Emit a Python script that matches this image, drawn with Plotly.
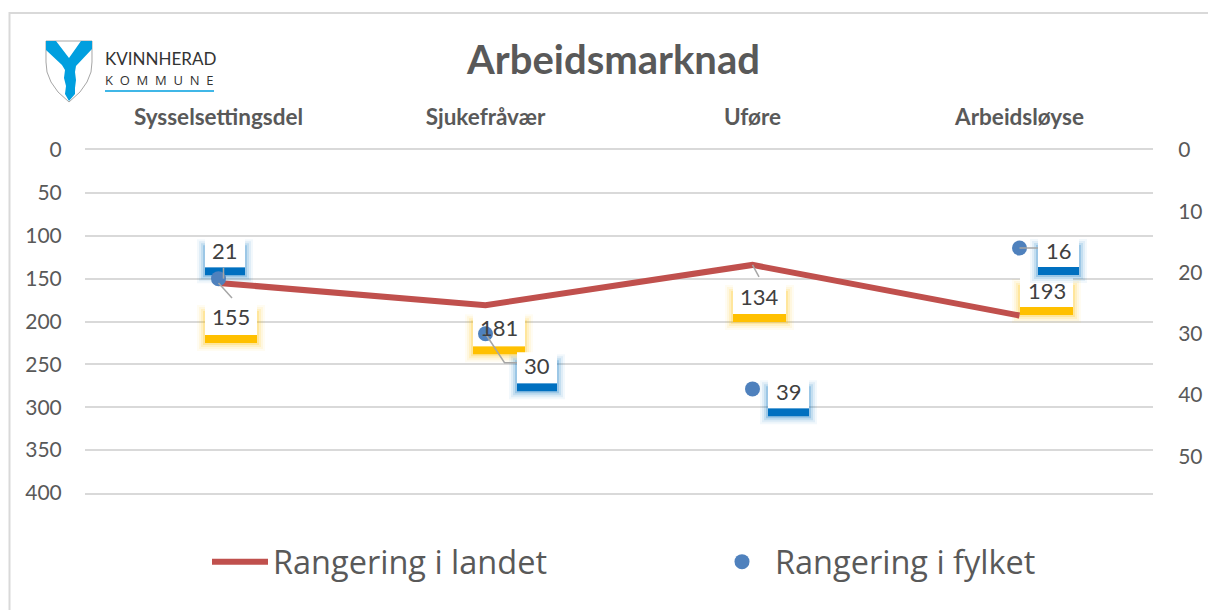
import plotly.graph_objects as go

categories = ["Sysselsettingsdel", "Sjukefråvær", "Uføre", "Arbeidsløyse"]
rang_landet = [155, 181, 134, 193]
rang_fylket = [21, 30, 39, 16]
y_ticks_left = [0, 50, 100, 150, 200, 250, 300, 350, 400]
y_ticks_right = [0, 10, 20, 30, 40, 50]
title_text = "Arbeidsmarknad"

W, H = 1208, 610
ML, MR, MT, MB = 85, 55, 150, 117
PW, PH = W - ML - MR, H - MT - MB
Y_MAX = 400
Y2_MAX = 56
FONT = "Lato"
TXT = "#595959"
DARK = "#404040"
GRID = "#d9d9d9"
RED = "#c0504d"
BLUE = "#4f81bd"
AMBER = "#ffc000"
DBLUE = "#0070c0"
LOGO = "#009fdf"

# label-box placement relative to its point, in pixels: dx0, dx1, dy top, dy bottom (down is positive)
box_landet = [(-13.5, 38.5, 20, 52), (-12.5, 39.5, 7, 41), (-19.5, 33.5, 18, 49), (0.5, 53.5, -38.5, -8.5)]
box_fylket = [(-13.5, 26.5, -41.5, -11.5), (31.5, 71.5, 18.5, 49.5), (15.5, 56.5, -10.7, 19.3), (18.5, 59.5, -11, 19)]
# leader lines relative to the point, in pixels
lead_landet = [[(0, 0), (13.5, 15)], None, [(0, 0), (6.5, 12)], None]
lead_fylket = [[(5, -11), (5, 0)], [(0, 0), (19, 29), (31.5, 29)], None, [(0, 0), (18.5, 0)]]


def px(x, y):
    # canvas pixels to plotly paper fractions (paper spans the plot area)
    return (x - ML) / PW, 1 - (y - MT) / PH


def paper_path(pts, close=True):
    s = ""
    for i, (x, y) in enumerate(pts):
        a, b = px(x, y)
        s += ("M" if i == 0 else "L") + f"{a:.5f},{b:.5f} "
    return s + ("Z" if close else "")


shapes = []
annots = []


def add_label(cat, val, box, anchor, color):
    # anchor is the point's position expressed on the left axis, so all boxes share one shape layer
    x0, x1, top, bot = box
    band = 8
    for grow, op in [(8, 0.05), (6, 0.08), (4, 0.12), (2, 0.2)]:
        shapes.append(dict(type="rect", xref="x", yref="y", xsizemode="pixel", ysizemode="pixel",
                           xanchor=cat, yanchor=anchor, x0=x0 - grow, x1=x1 + grow,
                           y0=-(top + 10 - grow), y1=-(bot + band + grow), fillcolor=color, opacity=op,
                           line_width=0, layer="between"))
    shapes.append(dict(type="rect", xref="x", yref="y", xsizemode="pixel", ysizemode="pixel",
                       xanchor=cat, yanchor=anchor, x0=x0, x1=x1, y0=-bot, y1=-(bot + band),
                       fillcolor=color, line_width=0, layer="between"))
    shapes.append(dict(type="rect", xref="x", yref="y", xsizemode="pixel", ysizemode="pixel",
                       xanchor=cat, yanchor=anchor, x0=x0, x1=x1, y0=-top, y1=-bot,
                       fillcolor="white", line_width=0, layer="between"))
    annots.append(dict(x=cat, y=anchor, xref="x", yref="y", text=str(val), showarrow=False,
                       xshift=(x0 + x1) / 2, yshift=-(top + bot) / 2 + 2,
                       font=dict(family=FONT, size=22, color=DARK)))


def add_leader(cat, anchor, pts):
    if not pts:
        return
    p = " ".join(("M" if i == 0 else "L") + f"{dx},{-dy}" for i, (dx, dy) in enumerate(pts))
    shapes.append(dict(type="path", xref="x", yref="y", xsizemode="pixel", ysizemode="pixel",
                       xanchor=cat, yanchor=anchor, path=p, line=dict(color="#a6a6a6", width=1.5), layer="above"))


for c, v, b, l in zip(categories, rang_landet, box_landet, lead_landet):
    add_label(c, v, b, v, AMBER)
    add_leader(c, v, l)
for c, v, b, l in zip(categories, rang_fylket, box_fylket, lead_fylket):
    add_label(c, v, b, v * Y_MAX / Y2_MAX, DBLUE)
    add_leader(c, v * Y_MAX / Y2_MAX, l)

# chart frame (top and left edges)
shapes.append(dict(type="path", xref="paper", yref="paper", layer="below",
                   path=paper_path([(9.5, 610), (9.5, 13), (1208, 13)], close=False),
                   line=dict(color=GRID, width=2)))

# logo: shield and blue Y
shield = [(46, 41), (92, 41), (92, 62), (91, 72), (87, 82), (80, 92), (69, 102), (58, 92), (51, 82), (47, 72), (46, 62)]
shapes.append(dict(type="path", xref="paper", yref="paper", path=paper_path(shield),
                   fillcolor="white", line=dict(color="#a6a6a6", width=1), layer="above"))
y_mark = [(46, 41), (56, 41), (69, 58), (81, 41), (92, 41), (92, 49), (76, 66), (75, 72), (76, 80), (75, 88), (75, 94),
          (69, 101), (65, 94), (66, 86), (64, 78), (65, 70), (62, 65), (46, 50)]
shapes.append(dict(type="path", xref="paper", yref="paper", path=paper_path(y_mark),
                   fillcolor=LOGO, line_width=0, layer="above"))
shapes.append(dict(type="path", xref="paper", yref="paper", path=paper_path([(105, 91), (214, 91)], close=False),
                   line=dict(color=LOGO, width=1.3), layer="above"))
a, b = px(103, 59)
annots.append(dict(x=a, y=b, xref="paper", yref="paper", xanchor="left", yanchor="middle", showarrow=False,
                   text="KVINNHERAD", font=dict(family="Lato", size=17, color="#333333")))
a, b = px(103, 80)
annots.append(dict(x=a, y=b, xref="paper", yref="paper", xanchor="left", yanchor="middle", showarrow=False,
                   text="K  O  M  M  U  N  E", font=dict(family="Open Sans", size=13, color="#333333")))

fig = go.Figure()
fig.add_trace(go.Scatter(x=categories, y=rang_landet, name="Rangering i landet", mode="lines", showlegend=True,
                         line=dict(color=RED, width=6), yaxis="y", legend="legend"))
fig.add_trace(go.Scatter(x=categories, y=rang_fylket, name="Rangering i fylket", mode="markers", showlegend=True,
                         marker=dict(color=BLUE, size=15), yaxis="y2", legend="legend2"))

legend_style = dict(yanchor="middle", itemwidth=56, font=dict(family="Open Sans", size=32.5, color=TXT),
                    bgcolor="rgba(0,0,0,0)", itemclick=False, itemdoubleclick=False)
fig.update_layout(
    width=W, height=H, autosize=False, showlegend=True,
    margin=dict(l=ML, r=MR, t=MT, b=MB, pad=0, autoexpand=False),
    paper_bgcolor="white", plot_bgcolor="white",
    font=dict(family=FONT, color=TXT),
    title=dict(text=f"<b>{title_text}</b>", x=613.5 / W, xanchor="center", y=1 - 60 / H, yanchor="middle",
               font=dict(family=FONT, size=40, color=TXT)),
    xaxis=dict(type="category", categoryorder="array", categoryarray=categories, range=[-0.5, 3.5],
               side="top", showgrid=False, showline=True, mirror=True, linecolor=GRID, linewidth=1.5,
               zeroline=False, ticks="outside", ticklen=14,
               tickcolor="rgba(0,0,0,0)", tickfont=dict(family=FONT, size=22.5, color=TXT),
               tickprefix="<b>", ticksuffix="</b>"),
    yaxis=dict(range=[Y_MAX, 0], tickvals=y_ticks_left, showgrid=True, gridcolor=GRID, gridwidth=1.5,
               zeroline=False, showline=False, ticks="outside", ticklen=18, tickcolor="rgba(0,0,0,0)",
               tickfont=dict(family=FONT, size=21, color=TXT)),
    yaxis2=dict(range=[Y2_MAX, 0], tickvals=y_ticks_right, overlaying="y", side="right", showgrid=False,
                zeroline=False, showline=False, ticks="outside", ticklen=20, tickcolor="rgba(0,0,0,0)",
                automargin=False, tickfont=dict(family=FONT, size=21, color=TXT)),
    legend=dict(x=px(207, 562)[0], y=px(207, 562)[1], xanchor="left", **legend_style),
    legend2=dict(x=px(709, 562)[0], y=px(709, 562)[1], xanchor="left", **legend_style),
    shapes=shapes, annotations=annots,
)

fig.write_html("out.html", post_script="document.body.style.margin='0';document.body.style.overflow='hidden';",
               config=dict(displayModeBar=False))
